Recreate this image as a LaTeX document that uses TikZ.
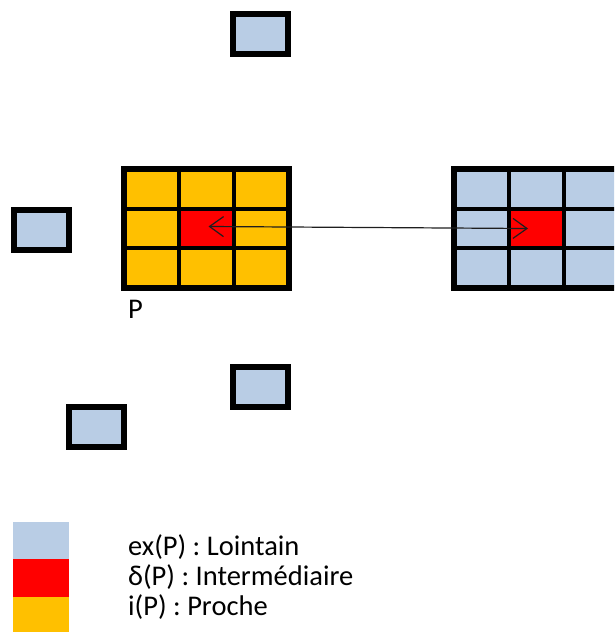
\documentclass[tikz,border=0pt]{standalone}
\usepackage{fontspec}
\setmainfont{Carlito}
\usetikzlibrary{calc,arrows.meta}

\definecolor{lointain}{RGB}{185,205,229}
\definecolor{inter}{RGB}{255,0,0}
\definecolor{proche}{RGB}{255,192,0}
\definecolor{darkline}{RGB}{30,30,30}

\begin{document}
\begin{tikzpicture}[x=1pt,y=-1pt,
	zone/.style={draw=black,line width=6pt,inner sep=0pt,outer sep=0pt,minimum width=165pt,minimum height=119pt},
	cell/.style={draw=black,line width=4pt,inner sep=0pt,outer sep=0pt,minimum width=55pt,minimum height=39.7pt,fill=inter},
	ilot/.style={draw=black,line width=6pt,inner sep=0pt,outer sep=0pt,minimum width=55pt,minimum height=40pt,fill=lointain},
	swatch/.style={inner sep=0pt,outer sep=0pt,minimum width=56pt,minimum height=37.5pt},
	legend/.style={anchor=base west,inner sep=0pt,font=\fontsize{28.5}{34}\selectfont}]

	\useasboundingbox (0,0) rectangle (614,632);
	\clip (0,0) rectangle (614,632);

	\node[ilot] at (260.5,34) (top) {};
	\node[ilot] at (41,229.5) (left) {};
	\node[ilot] at (260.5,386.5) (low) {};
	\node[ilot] at (96.5,426.5) (lowleft) {};

	\node[zone,fill=proche] at (206.5,228.5) (near) {};
	\node[zone,fill=lointain] at (536.5,228.5) (far) {};

	\foreach \z in {near,far}{
		\foreach \f in {1/3,2/3}{
			\draw[line width=4pt] ($(\z.north west)!\f!(\z.north east)$) -- ($(\z.south west)!\f!(\z.south east)$);
			\draw[line width=4pt] ($(\z.north west)!\f!(\z.south west)$) -- ($(\z.north east)!\f!(\z.south east)$);
		}
	}

	\node[cell] at (near.center) (nearmid) {};
	\node[cell] at (far.center) (farmid) {};

	\node[legend] at (128,318) (lblP) {P};

	\draw[darkline,line width=1.2pt,{Straight Barb[length=14pt,width=20pt]}-{Straight Barb[length=14pt,width=20pt]}] ([xshift=2pt,yshift=2pt]nearmid.center) to ([xshift=-8.5pt]farmid.center);

	% legende
	\node[swatch,fill=lointain] at (41,540.5) (sw1) {};
	\node[swatch,fill=inter] at (41,578) (sw2) {};
	\node[swatch,fill=proche] at (41,615.5) (sw3) {};

	\node[legend] at (128,555) (lg1) {ex(P) : Lointain};
	\node[legend] at (128,585) (lg2) {δ(P) : Intermédiaire};
	\node[legend] at (128,615) (lg3) {i(P) : Proche};
\end{tikzpicture}
\end{document}
